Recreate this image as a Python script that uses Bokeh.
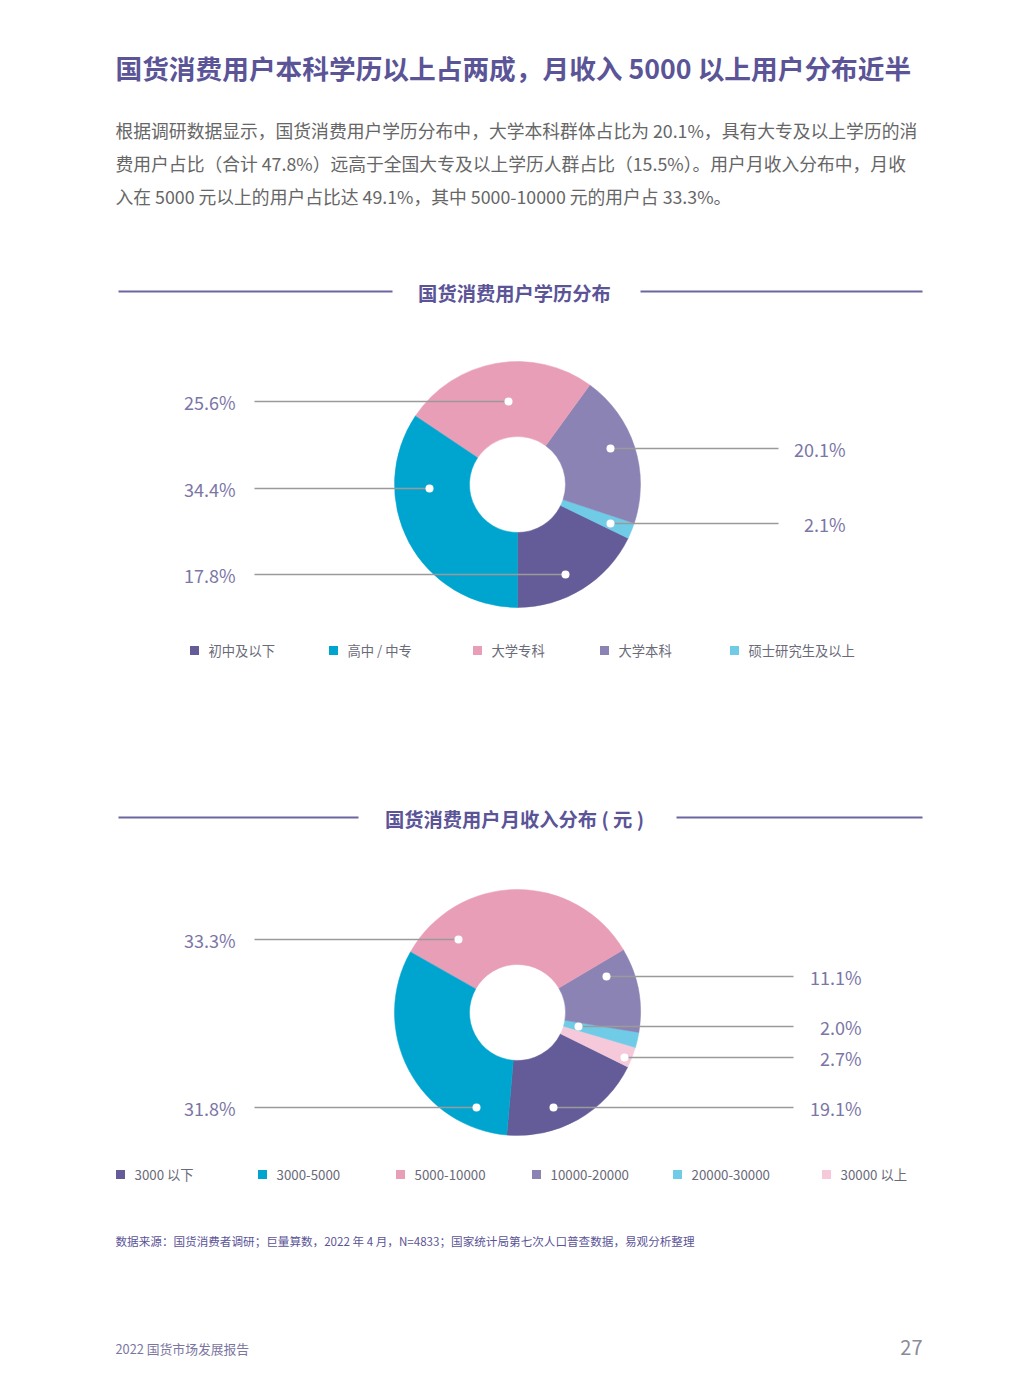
import math
from bokeh.plotting import figure
from bokeh.models import Range1d, Label, ColumnDataSource
from bokeh.embed import file_html
from bokeh.resources import INLINE

# ---------------- data ----------------
page_title = "国货消费用户本科学历以上占两成，月收入 5000 以上用户分布近半"
body_lines = [
    "根据调研数据显示，国货消费用户学历分布中，大学本科群体占比为 20.1%，具有大专及以上学历的消",
    "费用户占比（合计 47.8%）远高于全国大专及以上学历人群占比（15.5%）。用户月收入分布中，月收",
    "入在 5000 元以上的用户占比达 49.1%，其中 5000-10000 元的用户占 33.3%。",
]

edu_title = "国货消费用户学历分布"
edu_cats = ["初中及以下", "高中 / 中专", "大学专科", "大学本科", "硕士研究生及以上"]
edu_vals = [17.8, 34.4, 25.6, 20.1, 2.1]
edu_pie_order = [0, 4, 3, 2, 1]

inc_title = "国货消费用户月收入分布 ( 元 )"
inc_cats = ["3000 以下", "3000-5000", "5000-10000", "10000-20000", "20000-30000", "30000 以上"]
inc_vals = [19.1, 31.8, 33.3, 11.1, 2.0, 2.7]
inc_pie_order = [0, 5, 4, 3, 2, 1]

source_note = "数据来源：国货消费者调研；巨量算数，2022 年 4 月，N=4833；国家统计局第七次人口普查数据，易观分析整理"
footer_left = "2022 国货市场发展报告"
page_no = "27"

# ---------------- styles / layout ----------------
edu_colors = ["#645c98", "#00a5cf", "#e89eb7", "#8b83b4", "#6fcbe6"]
inc_colors = ["#645c98", "#00a5cf", "#e89eb7", "#8b83b4", "#6fcbe6", "#f5c9da"]

FONT = "Noto Sans CJK SC"
TITLE_C = "#5b5497"
BODY_C = "#666666"
LABEL_C = "#7b76a6"
LEG_C = "#6a6a78"
LINE_C = "#9a9a9a"

W, H = 1030, 1370


def X(x):
    return x


def Y(y):
    return H - y


p = figure(width=W, height=H, x_range=Range1d(0, W), y_range=Range1d(0, H),
           output_backend="svg", toolbar_location=None, min_border=0)
p.axis.visible = False
p.grid.visible = False
p.outline_line_color = None
p.background_fill_color = "white"
p.border_fill_color = "white"


def label(x, y, text, size, color, align="left", bold=False):
    p.add_layout(Label(x=X(x), y=Y(y), text=text, text_font=FONT,
                       text_font_size=f"{size}px", text_color=color,
                       text_align=align, text_baseline="middle",
                       text_font_style="bold" if bold else "normal"))


# title + body
label(115, 67, page_title, 26.7, TITLE_C, bold=True)
for i, line in enumerate(body_lines):
    label(115, 129 + 33 * i, line, 17.8, BODY_C)


def section_header(y, text, lx1, rx0):
    p.segment(x0=[X(118), X(rx0)], y0=[Y(y), Y(y)], x1=[X(lx1), X(922)], y1=[Y(y), Y(y)],
              line_color="#6c669f", line_width=2)
    label(514, y + 1, text, 19.3, TITLE_C, align="center", bold=True)


def donut(cx, cy, vals, colors, order, start_deg):
    total = sum(vals)
    ang = math.radians(start_deg)
    s, e, c = [], [], []
    for i in order:
        a = 2 * math.pi * vals[i] / total
        s.append(ang)
        e.append(ang + a)
        c.append(colors[i])
        ang += a
    n = len(order)
    src = ColumnDataSource(dict(x=[X(cx)] * n, y=[Y(cy)] * n, s=s, e=e, c=c))
    p.annular_wedge(x="x", y="y", inner_radius=48, outer_radius=123,
                    start_angle="s", end_angle="e", fill_color="c", line_color="c",
                    line_width=0.5, source=src)


def leaders(vals, anchors, left_text_x, left_line_x, right_text_x, right_line_x):
    x0, y0, x1, y1, dx, dy = [], [], [], [], [], []
    for i, (side, ly, dotx) in enumerate(anchors):
        txt = f"{vals[i]:.1f}%"
        if side == "L":
            x0.append(X(left_line_x)); x1.append(X(dotx))
            label(left_text_x, ly, txt, 18, LABEL_C, align="right")
        else:
            x0.append(X(dotx)); x1.append(X(right_line_x))
            label(right_text_x, ly, txt, 18, LABEL_C, align="right")
        y0.append(Y(ly)); y1.append(Y(ly))
        dx.append(X(dotx)); dy.append(Y(ly))
    p.segment(x0=x0, y0=y0, x1=x1, y1=y1, line_color=LINE_C, line_width=1.5)
    p.scatter(x=dx, y=dy, marker="circle", size=8, fill_color="white", line_color=None)


def legend(y, cats, colors, xs):
    p.scatter(x=[X(v) for v in xs], y=[Y(y)] * len(xs), marker="square", size=9,
              fill_color=colors, line_color=None)
    for c, xv in zip(cats, xs):
        label(xv + 14, y, c, 13.3, LEG_C)


# ---- chart 1 ----
section_header(291, edu_title, 392, 640)
donut(517, 484, edu_vals, edu_colors, edu_pie_order, -90)
edu_anchors = [("L", 574, 565), ("L", 488, 429), ("L", 401, 508), ("R", 448, 610), ("R", 523, 610)]
leaders(edu_vals, edu_anchors, 235, 254, 845, 778)
legend(650, edu_cats, edu_colors, [194, 333, 477, 604, 734])

# ---- chart 2 ----
section_header(817, inc_title, 358, 676)
donut(517, 1012, inc_vals, inc_colors, inc_pie_order, -95)
inc_anchors = [("R", 1107, 553), ("L", 1107, 476), ("L", 939, 458), ("R", 976, 606),
               ("R", 1026, 578), ("R", 1057, 624)]
leaders(inc_vals, inc_anchors, 235, 254, 861, 793)
legend(1174, inc_cats, inc_colors, [120, 262, 400, 536, 677, 826])

# footer
label(115, 1240, source_note, 11.6, TITLE_C)
label(115, 1348, footer_left, 12.8, "#7a76a0")
label(922, 1347, page_no, 20, "#8a8a98", align="right")

open("out.html", "w").write(file_html(p, INLINE))
